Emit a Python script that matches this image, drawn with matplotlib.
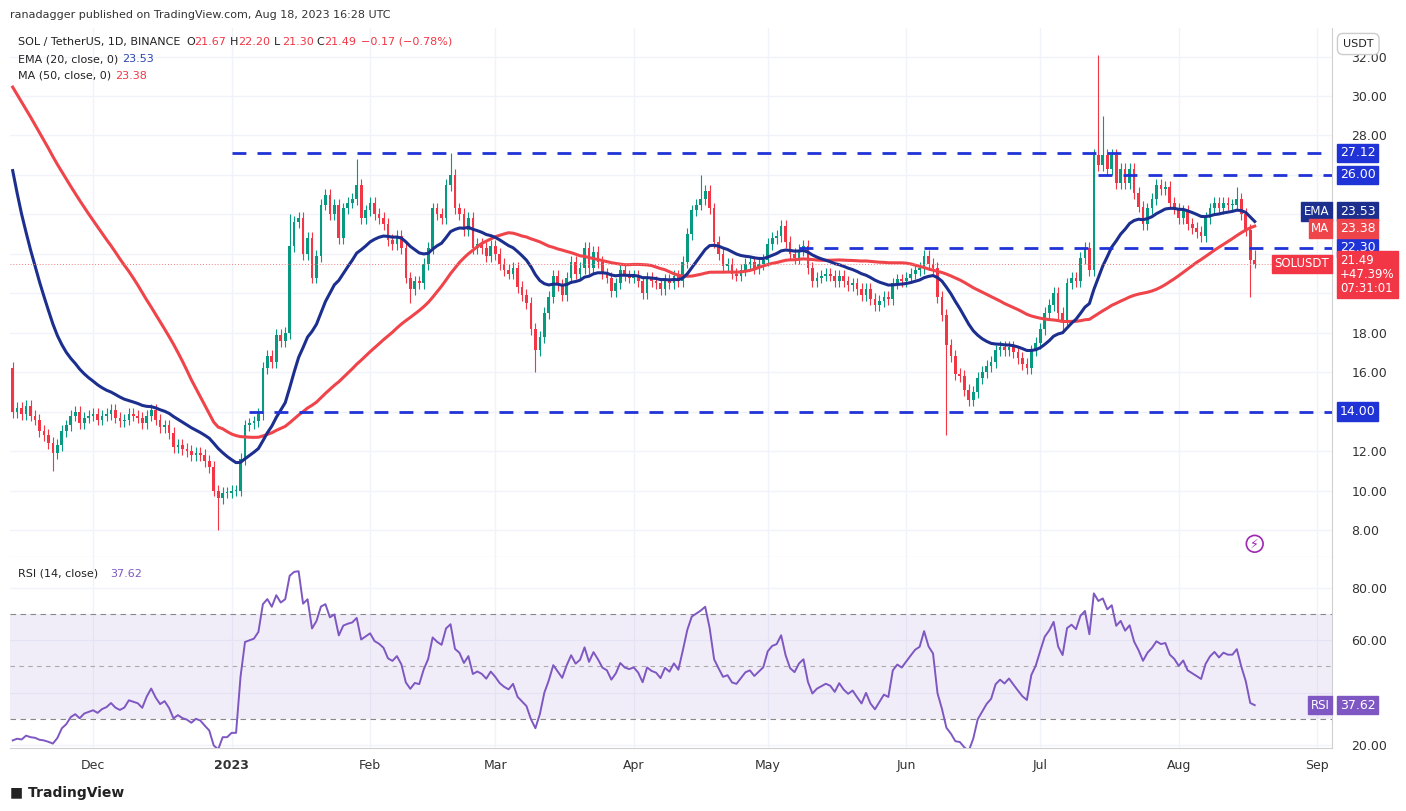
import numpy as np
import pandas as pd
import matplotlib
matplotlib.use("Agg")
import matplotlib.pyplot as plt

# closes before the visible window (Sep 24 - Nov 12 2022), used only to seed the averages
pre_closes = [32.8, 33.1, 32.5, 33.0, 33.4, 33.2, 33.0, 32.6, 32.3, 32.9,
              32.1, 31.6, 31.9, 32.4, 31.8, 31.2, 30.8, 30.9, 30.4, 29.8,
              30.1, 29.9, 29.6, 30.2, 30.5, 29.7, 29.5, 30.8, 31.4, 32.2,
              32.9, 31.9, 32.0, 31.5, 32.3, 31.9, 31.8, 33.5, 34.0, 35.2,
              35.8, 33.4, 33.6, 33.0, 32.6, 30.9, 22.2, 14.2, 17.0, 16.2]

close_nov = [14.0, 14.2, 13.9, 14.3, 13.8, 13.6, 13.0, 12.8, 12.4, 11.9,
             12.3, 13.0, 13.3, 13.8, 14.0, 13.4, 13.7, 13.8]
close_dec = [13.9, 13.6, 13.8, 13.9, 14.1, 13.7, 13.5, 13.6, 13.9, 13.8,
             13.7, 13.4, 13.8, 14.1, 13.6, 13.2, 13.3, 12.9, 12.2, 12.3,
             12.1, 12.0, 11.8, 11.9, 11.8, 11.5, 11.2, 10.0, 9.6, 9.9, 9.9]
close_jan = [10.0, 10.0, 11.6, 13.3, 13.4, 13.5, 13.9, 16.2, 16.8, 16.5,
             17.9, 17.6, 18.0, 22.4, 23.6, 23.8, 22.0, 22.8, 20.8, 21.9,
             24.5, 25.0, 24.0, 24.5, 22.8, 24.3, 24.6, 24.8, 25.5, 23.8, 24.2]
close_feb = [24.6, 24.0, 23.8, 23.5, 22.7, 22.5, 22.9, 22.3, 20.8, 20.2,
             20.6, 20.5, 21.5, 22.3, 24.3, 24.0, 23.8, 25.5, 26.0, 24.3,
             24.0, 23.2, 23.8, 22.3, 22.5, 22.3, 21.9, 22.4]
close_mar = [22.0, 21.5, 21.2, 21.0, 21.3, 20.3, 19.9, 19.5, 18.2, 17.1,
             17.8, 19.0, 19.8, 20.9, 20.4, 19.9, 20.8, 21.6, 21.0, 21.3,
             22.3, 21.3, 22.1, 21.6, 21.0, 20.8, 20.1, 20.5, 21.2, 20.9, 20.8]
close_apr = [20.9, 20.6, 20.0, 20.8, 20.6, 20.5, 20.2, 20.7, 20.5, 20.9,
             20.6, 21.6, 23.0, 24.2, 24.5, 24.8, 25.2, 24.3, 22.6, 22.0,
             21.4, 21.5, 21.0, 20.9, 21.2, 21.5, 21.6, 21.3, 21.5, 21.7]
close_may = [22.5, 22.8, 22.9, 23.4, 22.6, 22.0, 21.8, 22.2, 22.4, 21.3,
             20.6, 20.8, 20.9, 21.0, 20.9, 20.6, 20.9, 20.6, 20.4, 20.5,
             20.2, 19.9, 20.2, 19.7, 19.4, 19.6, 19.8, 19.7, 20.5, 20.7, 20.6]
close_jun = [20.8, 21.0, 21.2, 21.3, 21.9, 21.5, 21.3, 19.8, 18.9, 17.4,
             16.8, 15.9, 15.8, 15.1, 14.6, 15.0, 15.7, 16.0, 16.3, 16.5,
             17.1, 17.3, 17.1, 17.3, 17.0, 16.7, 16.4, 16.2, 17.1, 17.5]
close_jul = [18.2, 19.0, 19.4, 20.0, 19.0, 18.6, 20.5, 20.8, 20.6, 21.8,
             22.3, 21.2, 27.0, 26.5, 27.0, 26.3, 27.0, 25.6, 26.3, 25.6,
             26.3, 25.1, 24.4, 23.5, 24.3, 24.8, 25.5, 25.3, 25.4, 24.6, 24.3]
close_aug = [23.8, 24.2, 23.5, 23.3, 23.1, 22.9, 23.8, 24.3, 24.6, 24.3,
             24.6, 24.5, 24.5, 24.8, 24.0, 23.2, 21.67, 21.49]

# explicit wick extremes on notable days (date -> value)
highs = {"2023-01-29": 26.8, "2023-02-19": 27.1, "2023-04-16": 26.0,
         "2023-07-14": 32.1, "2023-07-15": 29.0, "2023-07-17": 27.3,
         "2023-08-14": 25.4, "2023-08-18": 22.2, "2023-01-14": 24.0}
lows = {"2022-11-22": 11.0, "2022-12-29": 8.0, "2023-02-10": 19.5,
        "2023-03-10": 16.0, "2023-06-10": 12.8, "2023-08-17": 19.8,
        "2023-08-18": 21.3, "2023-07-06": 18.0}

levels = [27.12, 26.00, 22.30, 14.00]
level_starts = ["2023-01-01", "2023-07-14", "2023-05-08", "2023-01-05"]

UP, DOWN = "#089981", "#f23645"
EMA_C, MA_C, LVL_C, RSI_C = "#1c2f8f", "#f0444b", "#1f33d6", "#7e57c2"
GRID = "#f0f3fa"

vis = (close_nov + close_dec + close_jan + close_feb + close_mar + close_apr
       + close_may + close_jun + close_jul + close_aug)
allc = pd.Series(pre_closes + vis, dtype=float)
dates = pd.date_range("2022-11-13", periods=len(vis), freq="D")
n0 = len(pre_closes)

ema = allc.ewm(span=20, adjust=False).mean().values[n0:]
ma = allc.rolling(50, min_periods=1).mean().values[n0:]
d = allc.diff()
gain = d.clip(lower=0).ewm(alpha=1 / 14, adjust=False).mean()
loss = (-d.clip(upper=0)).ewm(alpha=1 / 14, adjust=False).mean()
rsi = (100 - 100 / (1 + gain / loss)).values[n0:]

c = np.array(vis)
o = allc.shift(1).values[n0:]
o[-1] = 21.67
hi = np.maximum(o, c) + 0.3
lo = np.minimum(o, c) - 0.3
for k, v in highs.items():
    hi[dates.get_loc(pd.Timestamp(k))] = v
for k, v in lows.items():
    lo[dates.get_loc(pd.Timestamp(k))] = v

x = np.arange(len(c))
xmin = -0.6
xmax = (pd.Timestamp("2023-09-04") - dates[0]).days + 0.3

W, H = 1406, 811
fig = plt.figure(figsize=(14.06, 8.11), dpi=100)
L, R = 10 / W, 1332 / W
ax = fig.add_axes([L, 1 - 557 / H, R - L, (557 - 28) / H])
ax2 = fig.add_axes([L, 1 - 748 / H, R - L, (748 - 557) / H], sharex=ax)

months = ["2022-12-01", "2023-01-01", "2023-02-01", "2023-03-01", "2023-04-01",
          "2023-05-01", "2023-06-01", "2023-07-01", "2023-08-01", "2023-09-01"]
mlabels = ["Dec", "2023", "Feb", "Mar", "Apr", "May", "Jun", "Jul", "Aug", "Sep"]
mpos = [(pd.Timestamp(m) - dates[0]).days for m in months]

for a in (ax, ax2):
    for p in mpos:
        a.axvline(p, color=GRID, lw=1, zorder=0)
for v in range(8, 33, 2):
    ax.axhline(v, color=GRID, lw=1, zorder=0)
for v in (20, 40, 60, 80):
    ax2.axhline(v, color=GRID, lw=1, zorder=0)

for i in x:
    col = UP if c[i] >= o[i] else DOWN
    ax.vlines(i, lo[i], hi[i], color=col, lw=0.8)
    ax.bar(i, max(abs(c[i] - o[i]), 0.05), bottom=min(o[i], c[i]), width=0.6,
           color=col, edgecolor=col, lw=0)
ax.plot(x, ma, color=MA_C, lw=2.2)
ax.plot(x, ema, color=EMA_C, lw=2.2)
for lv, st in zip(levels, level_starts):
    xs = (pd.Timestamp(st) - dates[0]).days
    ax.hlines(lv, xs, xmax, colors=LVL_C, linestyles=(0, (5, 4)), lw=2)
ax.axhline(c[-1], color="#f08080", lw=0.7, ls=(0, (1, 2)))

ax.set_xlim(xmin, xmax)
ax.set_ylim(6.63, 33.45)
ax.yaxis.tick_right()
shown = [8, 10, 12, 16, 18, 28, 30, 32]
ax.set_yticks(shown)
ax.set_yticklabels([f"{v:.2f}" for v in shown], fontsize=9, color="#333")
ax.tick_params(axis="y", length=0, pad=14)
ax.tick_params(axis="x", length=0, labelbottom=False)
for s in ["top", "left"]:
    ax.spines[s].set_visible(False)
ax.spines["right"].set_color("#d0d0d0")
ax.spines["bottom"].set_color("#d0d0d0")

def tag(a, y, txt, bg, fs=9):
    a.text(1.006, y, txt, transform=a.get_yaxis_transform(), fontsize=fs,
           color="white", va="center", ha="left", clip_on=False,
           bbox=dict(boxstyle="square,pad=0.22", fc=bg, ec=bg))

def label(a, y, txt, bg):
    a.text(0.998, y, txt, transform=a.get_yaxis_transform(), fontsize=8.5,
           color="white", va="center", ha="right",
           bbox=dict(boxstyle="square,pad=0.22", fc=bg, ec=bg))

for lv in levels:
    tag(ax, lv, f"{lv:.2f}", LVL_C)
tag(ax, 24.15, "23.53", EMA_C)
tag(ax, 23.28, "23.38", MA_C)
ax.text(1.006, 20.95, "21.49\n+47.39%\n07:31:01", transform=ax.get_yaxis_transform(),
        fontsize=8.5, color="white", va="center", ha="left", linespacing=1.1,
        bbox=dict(boxstyle="square,pad=0.25", fc=DOWN, ec=DOWN))
label(ax, 24.15, "EMA", EMA_C)
label(ax, 23.28, "MA", MA_C)
label(ax, 21.49, "SOLUSDT", DOWN)
ax.text((pd.Timestamp("2023-08-18") - dates[0]).days, 7.3, "\u26a1", fontsize=9,
        color="#9c27b0", ha="center", va="center",
        bbox=dict(boxstyle="circle,pad=0.15", fc="white", ec="#9c27b0", lw=1.2))

# RSI panel
ax2.axhspan(30, 70, color=RSI_C, alpha=0.1, lw=0)
ax2.axhline(70, color="#888", lw=0.8, ls=(0, (5, 4)))
ax2.axhline(30, color="#888", lw=0.8, ls=(0, (5, 4)))
ax2.axhline(50, color="#aaa", lw=0.8, ls=(0, (4, 4)))
ax2.plot(x, rsi, color=RSI_C, lw=1.4)
ax2.set_ylim(18.8, 91.9)
ax2.yaxis.tick_right()
ax2.set_yticks([20, 60, 80])
ax2.set_yticklabels(["20.00", "60.00", "80.00"], fontsize=9, color="#333")
ax2.tick_params(axis="y", length=0, pad=14)
ax2.tick_params(axis="x", length=0, pad=8)
for s in ["top", "left"]:
    ax2.spines[s].set_visible(False)
ax2.spines["right"].set_color("#d0d0d0")
ax2.spines["bottom"].set_color("#d0d0d0")
tag(ax2, rsi[-1], "37.62", RSI_C)
label(ax2, rsi[-1], "RSI", RSI_C)

ax2.set_xticks(mpos)
ax2.set_xticklabels(mlabels, fontsize=9, color="#333")
ax2.get_xticklabels()[1].set_fontweight("bold")

# header texts
fig.text(10 / W, 1 - 15 / H, "ranadagger published on TradingView.com, Aug 18, 2023 16:28 UTC",
         fontsize=8, color="#333", va="center")
hy = 1 - 42 / H
fig.text(18 / W, hy, "SOL / TetherUS, 1D, BINANCE", fontsize=8, color="#222", va="center")
for xp, lab, val in [(186, "O", "21.67"), (230, "H", "22.20"), (274, "L", "21.30"), (316, "C", "21.49")]:
    fig.text(xp / W, hy, lab, fontsize=8, color="#222", va="center")
    fig.text((xp + 8) / W, hy, val, fontsize=8, color=DOWN, va="center")
fig.text(361 / W, hy, "\u22120.17 (\u22120.78%)", fontsize=8, color=DOWN, va="center")
fig.text(18 / W, 1 - 59 / H, "EMA (20, close, 0)", fontsize=8, color="#222", va="center")
fig.text(122 / W, 1 - 59 / H, "23.53", fontsize=8, color="#2a45b0", va="center")
fig.text(18 / W, 1 - 76 / H, "MA (50, close, 0)", fontsize=8, color="#222", va="center")
fig.text(115 / W, 1 - 76 / H, "23.38", fontsize=8, color=DOWN, va="center")
fig.text(18 / W, 1 - 574 / H, "RSI (14, close)", fontsize=8, color="#222", va="center")
fig.text(110 / W, 1 - 574 / H, "37.62", fontsize=8, color=RSI_C, va="center")
fig.text(1343 / W, 1 - 44 / H, "USDT", fontsize=8, color="#222", va="center",
         bbox=dict(boxstyle="round,pad=0.5", fc="white", ec="#ccc"))
fig.text(10 / W, 1 - 793 / H, "\u25a0 TradingView", fontsize=10, color="#222",
         fontweight="bold", va="center")

fig.savefig("out.png", dpi=100)
